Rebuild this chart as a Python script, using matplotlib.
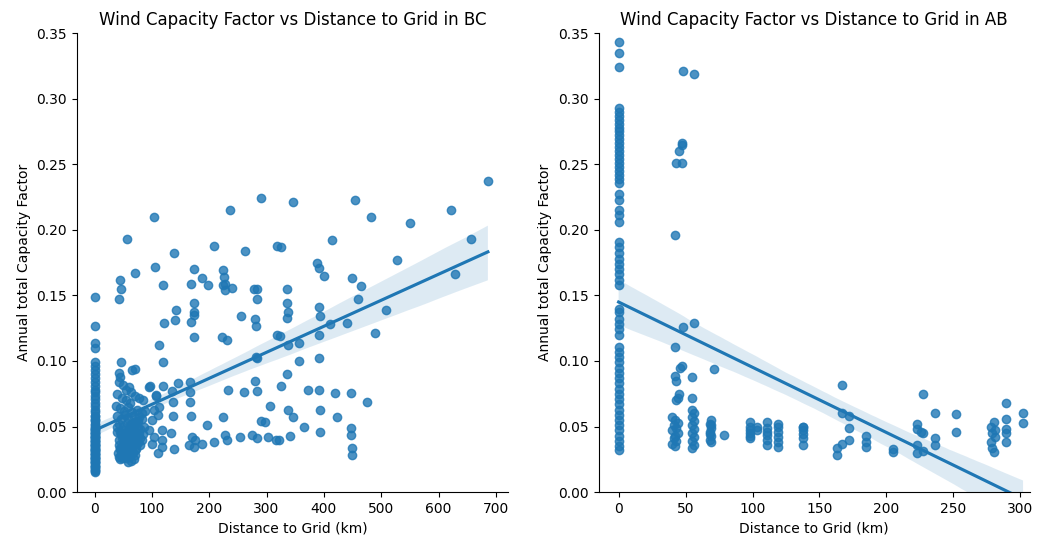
import numpy as np
import matplotlib
matplotlib.use("Agg")
import matplotlib.pyplot as plt
import seaborn as sns

# BC sites: distance to grid (km) and annual capacity factor
bc_dist = [
    0, 0, 0, 0, 0, 0, 0, 0, 0, 0, 0, 0, 0, 0, 0, 0, 0, 0, 0, 0, 0,
    0, 0, 0, 0, 0, 0, 0, 0, 0, 0, 0, 0, 0, 0, 0, 0, 0, 0, 0, 0,
    45, 47, 42, 56, 70, 46, 43, 44, 42, 71, 66, 95, 107,
    40, 48, 55, 62, 70, 78, 85,
    38, 44, 52, 58, 66, 74, 82, 88,
    40, 46, 53, 60, 68, 75, 83,
    42, 50, 57, 64, 71, 79, 86,
    39, 47, 54, 61, 68, 76, 84,
    43, 51, 58, 65, 72, 80,
    45, 52, 59, 66, 73,
    48, 55, 62, 69, 58, 50, 64,
    55, 50, 60, 63,
    112, 119, 97, 119, 135, 145, 166, 167, 108, 137, 167,
    104, 110, 101, 112, 137, 168, 196,
    95, 118, 133, 104, 118, 101, 118, 138, 110,
    170, 176, 164, 187, 208, 173,
    104, 106, 119, 139, 142, 141, 122, 168, 168, 173, 174, 173, 173, 187, 198, 209, 173,
    222, 231, 282, 284, 319,
    224, 226, 228, 224, 228, 239, 236, 262, 278, 284, 283, 255, 280, 281, 291, 318,
    232, 261, 283, 280, 306, 224, 291, 298,
    228, 231, 254, 274, 283, 303, 317,
    686, 347, 455, 483, 622, 550, 325, 415, 656, 527, 388, 392, 400, 628, 336, 449, 464,
    336, 460, 391, 337, 336, 394, 508, 410, 440,
    324, 338, 356, 391, 490, 357, 391, 336, 325, 373, 392, 420, 448, 475,
    338, 346, 393, 423, 365, 393, 321, 341, 448, 448, 449, 449,
    # overlapping points in the dense low clusters
    0, 0, 0, 0, 0, 0, 0, 0, 0, 0,
    0, 0, 0, 0, 0, 0, 0, 0, 0, 0,
    0, 0, 0, 0, 0, 0, 0, 0, 0, 0,
    0, 0, 0, 0, 0,
    41, 45, 49, 53, 57, 61, 65, 69, 73, 77,
    43, 47, 51, 55, 59, 63, 67, 71, 75, 79,
    40, 44, 48, 52, 56, 60, 64, 68, 72, 76,
    46, 50, 54, 58, 62, 66, 70, 74, 78, 82,
    42, 48, 54, 60, 66, 52, 56, 62, 57, 61,
    45, 53, 59, 67, 71,
]
bc_cf = [
    0.149, 0.127, 0.114, 0.110, 0.099, 0.096, 0.093, 0.090, 0.087, 0.084, 0.081,
    0.078, 0.076, 0.073, 0.071, 0.068, 0.066, 0.063, 0.061, 0.058, 0.056,
    0.054, 0.051, 0.049, 0.047, 0.045, 0.043, 0.041, 0.039, 0.037, 0.035,
    0.033, 0.031, 0.029, 0.027, 0.025, 0.023, 0.021, 0.019, 0.017, 0.015,
    0.162, 0.155, 0.147, 0.193, 0.167, 0.099, 0.091, 0.088, 0.084, 0.094, 0.093, 0.080, 0.074,
    0.075, 0.072, 0.070, 0.068, 0.073, 0.072, 0.070,
    0.066, 0.064, 0.062, 0.065, 0.061, 0.063, 0.060, 0.062,
    0.058, 0.056, 0.059, 0.055, 0.057, 0.054, 0.056,
    0.052, 0.050, 0.053, 0.049, 0.051, 0.048, 0.050,
    0.046, 0.044, 0.047, 0.043, 0.045, 0.042, 0.044,
    0.040, 0.038, 0.041, 0.037, 0.039, 0.036,
    0.034, 0.032, 0.035, 0.031, 0.033,
    0.028, 0.026, 0.029, 0.025, 0.023, 0.030, 0.024,
    0.078, 0.082, 0.080, 0.076,
    0.112, 0.099, 0.081, 0.081, 0.077, 0.083, 0.084, 0.076, 0.073, 0.069, 0.069,
    0.0625, 0.059, 0.055, 0.065, 0.058, 0.058, 0.051,
    0.047, 0.047, 0.045, 0.042, 0.040, 0.037, 0.0345, 0.033, 0.030,
    0.042, 0.040, 0.036, 0.037, 0.038, 0.0345,
    0.210, 0.172, 0.158, 0.182, 0.139, 0.131, 0.129, 0.159, 0.130, 0.170, 0.144, 0.137, 0.135, 0.163, 0.158, 0.188, 0.118,
    0.118, 0.116, 0.103, 0.102, 0.120,
    0.169, 0.164, 0.159, 0.158, 0.154, 0.156, 0.215, 0.184, 0.155, 0.155, 0.147, 0.134, 0.132, 0.127, 0.224, 0.188,
    0.078, 0.076, 0.077, 0.085, 0.0655, 0.057, 0.054, 0.0535,
    0.0435, 0.040, 0.042, 0.0435, 0.041, 0.042, 0.040,
    0.237, 0.221, 0.223, 0.2095, 0.215, 0.205, 0.187, 0.192, 0.193, 0.177, 0.175, 0.171, 0.165, 0.166, 0.155, 0.163, 0.157,
    0.144, 0.147, 0.141, 0.137, 0.133, 0.134, 0.139, 0.128, 0.129,
    0.119, 0.112, 0.114, 0.1195, 0.121, 0.100, 0.102, 0.090, 0.081, 0.0775, 0.0775, 0.0757, 0.0755, 0.069,
    0.063, 0.0574, 0.0625, 0.057, 0.050, 0.0455, 0.040, 0.0427, 0.049, 0.0437, 0.034, 0.028,
    # overlapping points in the dense low clusters
    0.016, 0.018, 0.020, 0.022, 0.024, 0.026, 0.028, 0.030, 0.032, 0.034,
    0.036, 0.038, 0.040, 0.042, 0.044, 0.046, 0.048, 0.050, 0.052, 0.055,
    0.019, 0.023, 0.027, 0.031, 0.035, 0.039, 0.043, 0.047, 0.025, 0.029,
    0.033, 0.037, 0.041, 0.045, 0.058,
    0.030, 0.033, 0.036, 0.039, 0.042, 0.045, 0.048, 0.051, 0.054, 0.057,
    0.027, 0.031, 0.035, 0.043, 0.047, 0.052, 0.039, 0.044, 0.049, 0.041,
    0.050, 0.046, 0.041, 0.037, 0.033, 0.029, 0.035, 0.040, 0.046, 0.038,
    0.028, 0.034, 0.039, 0.044, 0.040, 0.036, 0.032, 0.037, 0.045, 0.040,
    0.036, 0.026, 0.032, 0.028, 0.035, 0.042, 0.038, 0.034, 0.031, 0.027,
    0.025, 0.029, 0.033, 0.030, 0.028,
]

# AB sites
ab_dist = [
    0, 0, 0, 0, 0, 0, 0, 0, 0, 0,
    0, 0, 0, 0, 0, 0, 0, 0, 0, 0,
    0, 0, 0, 0, 0, 0, 0, 0, 0, 0,
    0, 0, 0, 0, 0, 0, 0, 0, 0, 0,
    0, 0, 0, 0, 0, 0, 0, 0, 0, 0,
    0, 0, 0, 0, 0, 0, 0, 0, 0, 0,
    0, 0, 0, 0,
    48, 56, 47, 47, 45, 43, 47, 42, 42, 48, 56, 46, 47, 42, 43, 45, 44, 43,
    40, 42, 44, 41, 43, 40, 44, 42, 41, 43, 40, 42,
    55, 55, 55, 56, 55, 56, 55, 56, 55, 56, 55, 56, 55,
    69, 68, 69, 68, 69, 68, 69,
    71, 79,
    98, 98, 98, 98, 98, 103,
    111, 111, 111, 111,
    119, 119, 119, 119,
    138, 138, 138, 138,
    167, 167, 167, 172, 172, 172, 163, 163,
    185, 185, 185,
    205, 205,
    223, 223, 223, 223, 226, 227, 227, 227,
    236, 236, 236,
    252, 252,
    278, 280, 281, 279, 281, 278, 279, 280,
    289, 289, 289, 289, 289,
    302, 302,
    98, 103, 111, 119, 138, 138, 68, 69, 111, 119,
]
ab_cf = [
    0.343, 0.335, 0.324, 0.293, 0.290, 0.287, 0.284, 0.281, 0.278, 0.275,
    0.272, 0.269, 0.266, 0.263, 0.260, 0.257, 0.254, 0.251, 0.248, 0.245,
    0.242, 0.239, 0.236, 0.227, 0.223, 0.215, 0.211, 0.206, 0.191, 0.187,
    0.182, 0.178, 0.174, 0.170, 0.166, 0.162, 0.158, 0.140, 0.137, 0.132,
    0.128, 0.124, 0.120, 0.111, 0.107, 0.103, 0.099, 0.095, 0.091, 0.087,
    0.083, 0.079, 0.075, 0.071, 0.067, 0.063, 0.059, 0.055, 0.051, 0.047,
    0.043, 0.039, 0.035, 0.032,
    0.321, 0.319, 0.266, 0.265, 0.260, 0.251, 0.251, 0.196, 0.111, 0.126, 0.129, 0.095, 0.096, 0.0885, 0.085, 0.075, 0.0715, 0.070,
    0.057, 0.055, 0.053, 0.051, 0.049, 0.047, 0.045, 0.043, 0.041, 0.039, 0.037, 0.035,
    0.0875, 0.0714, 0.063, 0.060, 0.057, 0.054, 0.051, 0.048, 0.045, 0.042, 0.039, 0.036, 0.034,
    0.055, 0.052, 0.049, 0.046, 0.043, 0.040, 0.038,
    0.094, 0.0435,
    0.0536, 0.0498, 0.0473, 0.0448, 0.041, 0.047,
    0.0536, 0.0435, 0.040, 0.036,
    0.0498, 0.0455, 0.042, 0.0345,
    0.0498, 0.0473, 0.041, 0.036,
    0.082, 0.060, 0.037, 0.058, 0.049, 0.0396, 0.0333, 0.028,
    0.0427, 0.038, 0.0345,
    0.033, 0.0307,
    0.052, 0.0485, 0.036, 0.0295, 0.046, 0.0448, 0.075, 0.0315,
    0.060, 0.041, 0.036,
    0.0595, 0.0458,
    0.0498, 0.0536, 0.0473, 0.0448, 0.042, 0.0383, 0.0333, 0.0307,
    0.068, 0.056, 0.0485, 0.0448, 0.0383,
    0.060, 0.0528,
    0.043, 0.050, 0.046, 0.038, 0.044, 0.050, 0.044, 0.051, 0.049, 0.052,
]

fig, (ax1, ax2) = plt.subplots(1, 2, figsize=(10.37, 5.42), dpi=100)
fig.subplots_adjust(left=0.074, right=0.993, bottom=0.092, top=0.939, wspace=0.21)

sns.regplot(x=np.array(bc_dist), y=np.array(bc_cf), ax=ax1, seed=1)
ax1.set_title("Wind Capacity Factor vs Distance to Grid in BC")
ax1.set_xlabel("Distance to Grid (km)")
ax1.set_ylabel("Annual total Capacity Factor")
ax1.set_ylim(0, 0.35)
ax1.set_xlim(-31, 721)

sns.regplot(x=np.array(ab_dist), y=np.array(ab_cf), ax=ax2, seed=1)
ax2.set_title("Wind Capacity Factor vs Distance to Grid in AB")
ax2.set_xlabel("Distance to Grid (km)")
ax2.set_ylabel("Annual total Capacity Factor")
ax2.set_ylim(0, 0.35)
ax2.set_xlim(-15, 307)

for ax in (ax1, ax2):
    ax.spines["top"].set_visible(False)
    ax.spines["right"].set_visible(False)

plt.savefig("out.png")
